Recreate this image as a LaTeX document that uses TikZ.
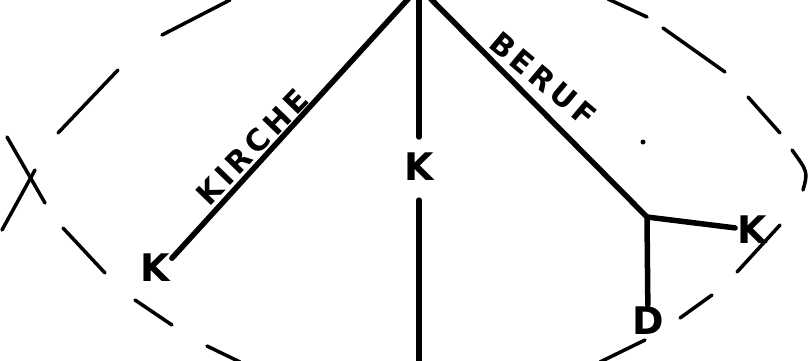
\documentclass[tikz,border=0pt]{standalone}
\usepackage{fontspec}
\setmainfont{DejaVu Sans}

\begin{document}
\begin{tikzpicture}[x=1pt,y=-1pt,line cap=round,
  stem/.style={line width=5.5pt},
  rim/.style={line width=3.5pt},
  lbl/.style={font=\fontsize{38}{38}\selectfont\bfseries,inner sep=2pt},
  word/.style={font=\fontsize{30}{30}\selectfont\bfseries\addfontfeature{LetterSpace=14},inner sep=0pt}]
\useasboundingbox (0,0) rectangle (810,360);
\clip (0,0) rectangle (810,360);
% the oval, drawn as loose hand-made dashes
\foreach \xa/\ya/\xb/\yb in {162/35/230/0, 58/133/118/70, 7/137/45/203, 2/230/35/170, 63/228/105/273,
  135/300/172/325, 207/346/240/362, 600/362/645/340, 680/318/712/295, 737/272/780/225,
  748/97/780/133, 663/28/725/72, 608/-1/647/17}
  \draw[rim] (\xa,\ya)--(\xb,\yb);
\draw[rim] (792,150) .. controls (808,172) .. (803,190);
% the tree
\coordinate (top) at (419,-13);\coordinate (fork) at (647,217);\coordinate (bot) at (419,370);
\node[lbl] (kl) at (155,268) {K};\node[lbl] (km) at (419,167) {K};
\node[lbl] (kr) at (752,230) {K};\node[lbl] (d) at (648,321) {D};
\draw[stem] (top)--(kl.30);
\draw[stem,shorten >=14pt] (top)--(km);
\draw[stem,shorten <=17pt] (km)--(bot);
\draw[stem] (top)--(fork)--(kr);
\draw[stem] (fork)--(d);
\fill (643,142) circle (2.5);
\node[word,rotate=46] (kirche) at (252,147) {KIRCHE};
\node[word,rotate=-40] (beruf) at (543,79) {BERUF};
\end{tikzpicture}
\end{document}
